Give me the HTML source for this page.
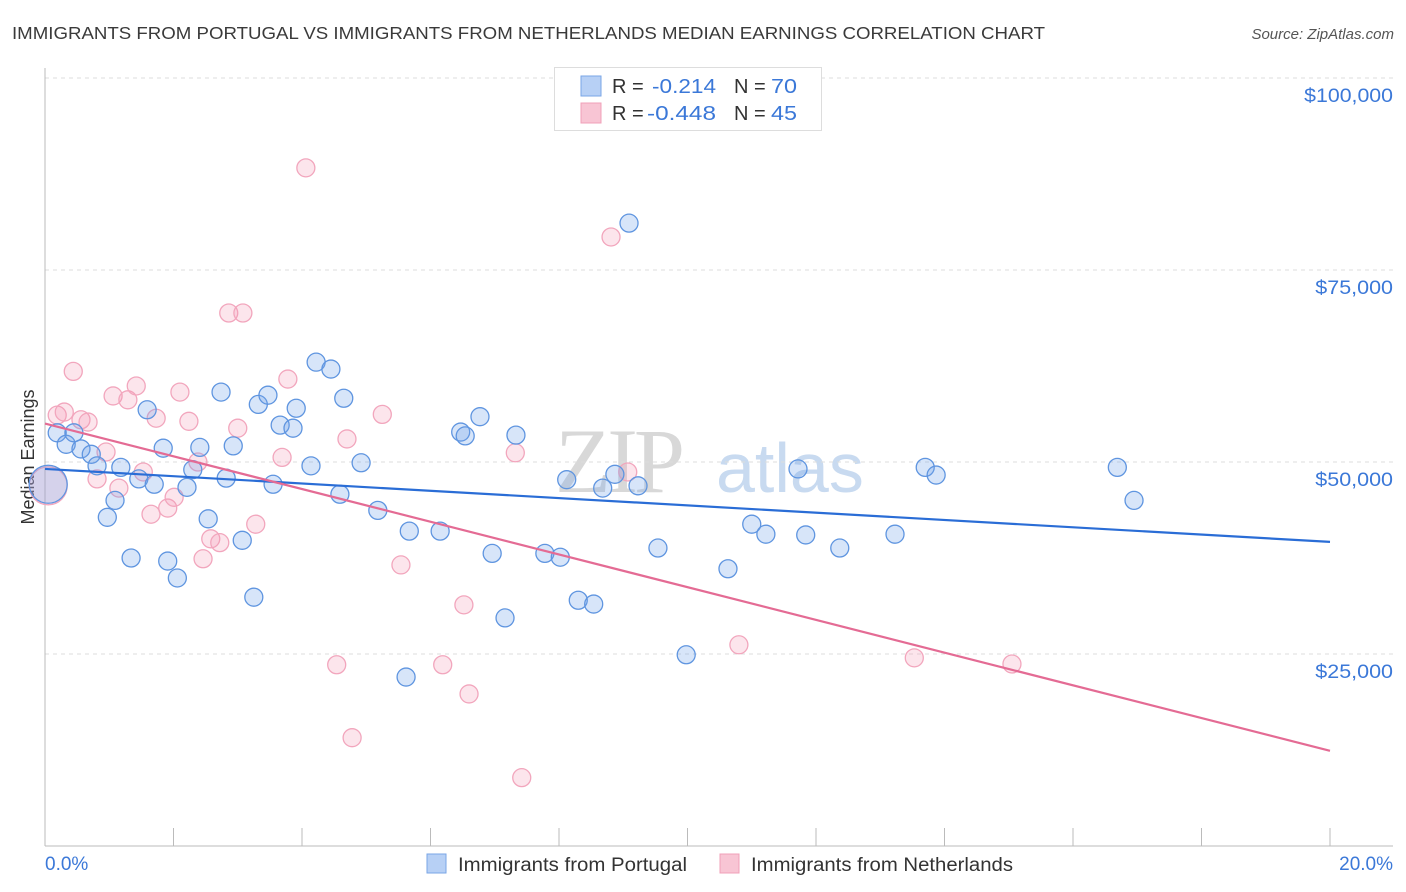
<!DOCTYPE html>
<html><head><meta charset="utf-8"><style>
body{margin:0;background:#fff;font-family:"Liberation Sans",sans-serif;}
#wrap{position:relative;width:1406px;height:892px;overflow:hidden;}
</style></head><body>
<div id="wrap">
<svg id="svg" width="1406" height="892" xmlns="http://www.w3.org/2000/svg">
<text x="12" y="39" font-size="17.5" fill="#3a3a3a" textLength="1033" lengthAdjust="spacingAndGlyphs">IMMIGRANTS FROM PORTUGAL VS IMMIGRANTS FROM NETHERLANDS MEDIAN EARNINGS CORRELATION CHART</text>
<text x="1394" y="39" font-size="15" fill="#555" font-style="italic" text-anchor="end">Source: ZipAtlas.com</text>
<text x="34" y="457" font-size="18" fill="#333" text-anchor="middle" transform="rotate(-90 34 457)">Median Earnings</text>
<g>
<text x="555" y="492" font-size="92" fill="#d8d8d8" font-family="Liberation Serif,serif" letter-spacing="-4">ZIP</text>
<text x="716" y="492" font-size="70" fill="#c8daf0">atlas</text>
</g>
<g id="grid"></g><g id="axes"></g><g id="pts"></g><g id="lines"></g>
<g>
<rect x="554.5" y="67.5" width="267" height="63" fill="#fff" stroke="#ddd"/>
<rect x="581" y="76" width="20" height="20" fill="#b7d0f5" stroke="#7aa6e6"/>
<rect x="581" y="103" width="20" height="20" fill="#f8c5d4" stroke="#f0a0b8"/>
<text x="612" y="93" font-size="20" fill="#333">R = </text><text x="652" y="93" font-size="20" fill="#3b78d8" textLength="64" lengthAdjust="spacingAndGlyphs">-0.214</text>
<text x="734" y="93" font-size="20" fill="#333">N = </text><text x="771" y="93" font-size="20" fill="#3b78d8" textLength="26" lengthAdjust="spacingAndGlyphs">70</text>
<text x="612" y="120" font-size="20" fill="#333">R = </text><text x="647" y="120" font-size="20" fill="#3b78d8" textLength="69" lengthAdjust="spacingAndGlyphs">-0.448</text>
<text x="734" y="120" font-size="20" fill="#333">N = </text><text x="771" y="120" font-size="20" fill="#3b78d8" textLength="26" lengthAdjust="spacingAndGlyphs">45</text>
</g>
<g>
<rect x="427" y="854" width="19" height="19" fill="#b7d0f5" stroke="#7aa6e6"/>
<text x="458" y="871" font-size="19" fill="#333" textLength="229" lengthAdjust="spacingAndGlyphs">Immigrants from Portugal</text>
<rect x="720" y="854" width="19" height="19" fill="#f8c5d4" stroke="#f0a0b8"/>
<text x="751" y="871" font-size="19" fill="#333" textLength="262" lengthAdjust="spacingAndGlyphs">Immigrants from Netherlands</text>
</g>
</svg>
</div>
<script>
const yTicks=[25000,50000,75000,100000];
const yTickLabels=["$25,000","$50,000","$75,000","$100,000"];
const xTicks=[0,2,4,6,8,10,12,14,16,18,20];
const blueX=[0.05,0.19,0.33,0.45,0.56,0.72,0.81,0.97,1.09,1.18,1.34,1.46,1.59,1.70,1.84,1.91,2.06,2.21,2.30,2.41,2.54,2.74,2.82,2.93,3.07,3.25,3.32,3.47,3.55,3.66,3.86,3.91,4.14,4.22,4.45,4.59,4.65,4.92,5.18,5.62,5.67,6.15,6.47,6.54,6.77,6.96,7.16,7.33,7.78,8.02,8.12,8.30,8.54,8.68,8.87,9.09,9.23,9.54,9.98,10.63,11.00,11.22,11.72,11.84,12.37,13.23,13.70,13.87,16.69,16.95];
const blueY=[47100,53800,52300,53800,51700,51000,49500,42800,45000,49300,37500,47800,56800,47100,51800,37100,34900,46700,49000,51900,42600,59100,47900,52100,39800,32400,57500,58700,47100,54800,54400,57000,49500,63000,62100,45800,58300,49900,43700,22000,41000,41000,53900,53400,55900,38100,29700,53500,38100,37600,47700,32000,31500,46600,48400,81100,46900,38800,24900,36100,41900,40600,49100,40500,38800,40600,49300,48300,49300,45000];
const pinkX=[0.05,0.19,0.30,0.44,0.56,0.67,0.81,0.95,1.06,1.15,1.29,1.42,1.53,1.65,1.73,1.91,2.01,2.10,2.24,2.38,2.46,2.58,2.72,2.86,3.00,3.08,3.28,3.69,3.78,4.06,4.54,4.70,4.78,5.25,5.54,6.19,6.52,6.60,7.32,7.42,8.81,9.07,10.80,13.53,15.05];
const pinkY=[46900,56100,56500,61800,55500,55200,47800,51300,58600,46600,58100,59900,48700,43200,55700,44000,45400,59100,55300,50000,37400,40000,39500,69400,54400,69400,41900,50600,60800,88300,23600,53000,14100,56200,36600,23600,31400,19800,51200,8900,79300,48700,26200,24500,23700];
const blueTrend=[49100,39600];
const pinkTrend=[55000,12400];
const X=v=>45+v/20*1285, Y=v=>846-v/25000*192;
const NS="http://www.w3.org/2000/svg";
function mk(parent,tag,attrs){const e=document.createElementNS(NS,tag);for(const k in attrs)e.setAttribute(k,attrs[k]);document.getElementById(parent).appendChild(e);return e;}
yTicks.forEach((t,i)=>{
 const l=mk('grid','line',{x1:45,x2:1393,y1:Y(t),y2:Y(t),stroke:'#ddd','stroke-dasharray':'4,4'});
 
 
 const tx=mk('grid','text',{x:1393,y:Y(t)+24,'font-size':19,fill:'#3b78d8','text-anchor':'end',textLength:yTickLabels[i].length*11.1,lengthAdjust:'spacingAndGlyphs'});
 tx.textContent=yTickLabels[i];
 
 
});
const ya=mk('axes','line',{x1:45,x2:45,y1:68,y2:846,stroke:'#bbb'});


const xa=mk('axes','line',{x1:45,x2:1393,y1:846,y2:846,stroke:'#bbb'});


xTicks.forEach(t=>{const k=mk('axes','line',{x1:X(t),x2:X(t),y1:828,y2:846,stroke:'#bbb'});
 
 });
const l0=mk('axes','text',{x:45,y:870,'font-size':19,fill:'#3b78d8'});l0.textContent=xTicks[0].toFixed(1)+'%';


const l1=mk('axes','text',{x:1393,y:870,'font-size':19,fill:'#3b78d8','text-anchor':'end'});l1.textContent=xTicks[xTicks.length-1].toFixed(1)+'%';


function pts(xs,ys,fill,stroke,name){xs.forEach((x,i)=>{
 const c=mk('pts','circle',{cx:X(x),cy:Y(ys[i]),r:i===0?19:9,fill:fill,stroke:stroke,'stroke-width':1.3});
 
 });}
pts(pinkX,pinkY,'rgba(245,150,180,0.25)','#f2a6bd','point-netherlands');
pts(blueX,blueY,'rgba(110,160,235,0.28)','#5f95e0','point-portugal');
const bl=mk('lines','line',{x1:X(0),x2:X(20),y1:Y(blueTrend[0]),y2:Y(blueTrend[1]),stroke:'#2a6dd6','stroke-width':2.2});


const pl=mk('lines','line',{x1:X(0),x2:X(20),y1:Y(pinkTrend[0]),y2:Y(pinkTrend[1]),stroke:'#e46b94','stroke-width':2.2});


</script>
</body></html>
